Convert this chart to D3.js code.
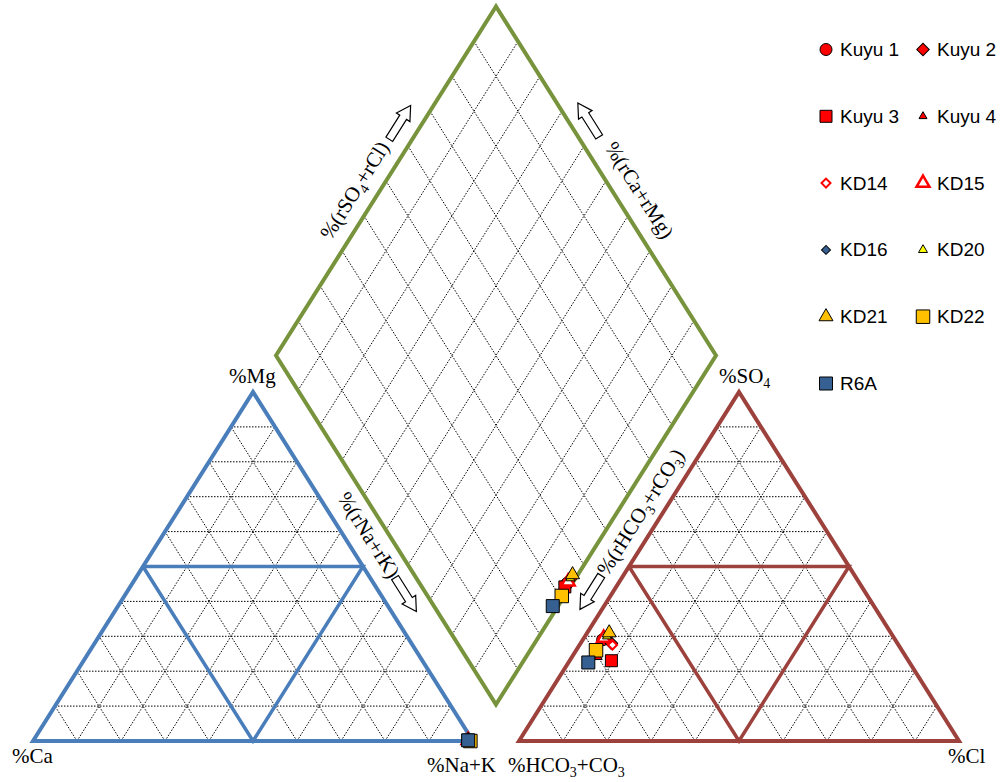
<!DOCTYPE html>
<html>
<head>
<meta charset="utf-8">
<script src="https://cdn.jsdelivr.net/npm/d3@7"></script>
<style>
  body { margin: 0; background: #fff; }
  svg { display: block; }
  .grid { stroke: #000; stroke-width: 1; stroke-dasharray: 1.5 1.5; fill: none; }
  .lbl { font-family: "Liberation Serif", "Times New Roman", serif; font-size: 21px; fill: #000; }
  .legend text { font-family: "Liberation Sans", Arial, sans-serif; font-size: 19px; fill: #000; }
</style>
</head>
<body>
<svg id="piper" width="1002" height="782"></svg>
<script>
// samples (legend order = draw order)
const samples = ["Kuyu 1", "Kuyu 2", "Kuyu 3", "Kuyu 4", "KD14", "KD15", "KD16", "KD20", "KD21", "KD22", "R6A"];
// cations, % of meq
const caPct  = [1.0, 0.8, 1.0, 0.9, 0.8, 1.0, 1.2, 1.0, 1.0, 0.6, 1.0];
const mgPct  = [0.2, 0.3, 0.2, 0.3, 0.2, 0.2, 0.3, 0.2, 0.2, 0.0, 0.2];
const naKPct = [98.8, 98.9, 98.8, 98.8, 99.0, 98.8, 98.5, 98.8, 98.8, 99.4, 98.8];
// anions, % of meq
const hco3Pct = [66.5, 65, 67.5, 70, 65, 66, 73, 65, 64, 69.5, 73];
const so4Pct  = [29, 28, 23, 24, 27.5, 29.5, 23, 30, 31, 26, 22.5];
const clPct   = [4.5, 7, 9.5, 6, 7.5, 4.5, 4, 5, 5, 4.5, 4.5];

const markerStyle = {
  "Kuyu 1": { shape: "circle", size: 12, fill: "#FF0000", stroke: "#000", sw: 1 },
  "Kuyu 2": { shape: "diamond", size: 12.5, fill: "#FF0000", stroke: "#000", sw: 1 },
  "Kuyu 3": { shape: "square", size: 12, fill: "#FF0000", stroke: "#000", sw: 1 },
  "Kuyu 4": { shape: "triangle", size: 8, fill: "#FF0000", stroke: "#000", sw: 1 },
  "KD14": { shape: "diamond", size: 9, fill: "#fff", stroke: "#FF0000", sw: 2 },
  "KD15": { shape: "triangle", size: 13, fill: "#fff", stroke: "#FF0000", sw: 2.5 },
  "KD16": { shape: "diamond", size: 9, fill: "#376092", stroke: "#000", sw: 1 },
  "KD20": { shape: "triangle", size: 9, fill: "#FFFF00", stroke: "#000", sw: 1 },
  "KD21": { shape: "triangle", size: 14, fill: "#FFC000", stroke: "#000", sw: 1 },
  "KD22": { shape: "square", size: 13.5, fill: "#FFC000", stroke: "#000", sw: 1 },
  "R6A": { shape: "square", size: 13, fill: "#376092", stroke: "#000", sw: 1 }
};

const h = Math.sqrt(3) / 2;
const gap = 46 / 440;
const x = d3.scaleLinear().domain([0, 2 + gap]).range([33, 33 + 440 * (2 + gap)]);
const y = d3.scaleLinear().domain([0, h]).range([741, 392]);
const line = d3.line().x(d => x(d[0])).y(d => y(d[1]));
const px = p => [x(p[0]), y(p[1])];

const svg = d3.select("#piper");

// ternary -> unit coords
const cationXY = (ca, mg, nak) => {
  const s = ca + mg + nak;
  return [nak / s + mg / s / 2, mg / s * h];
};
const anionXY = (hco3, so4, cl) => {
  const s = hco3 + so4 + cl;
  return [1 + gap + cl / s + so4 / s / 2, so4 / s * h];
};
const diamondXY = (c, a) => {
  const t = ((a[1] - c[1]) / h + 2 * (a[0] - c[0])) / 2;
  return [c[0] + t / 2, c[1] + t * h];
};

// diamond corners
const dB = diamondXY(cationXY(0, 0, 100), anionXY(100, 0, 0));
const dR = diamondXY(cationXY(0, 0, 100), anionXY(0, 0, 100));
const dT = diamondXY(cationXY(100, 0, 0), anionXY(0, 0, 100));
const dL = diamondXY(cationXY(100, 0, 0), anionXY(100, 0, 0));

const ticks = d3.range(1, 10).map(k => k / 10);
const gridG = svg.append("g");

function triangleGrid(ox) {
  ticks.forEach(f => {
    gridG.append("path").attr("class", "grid").attr("d", line([[ox + f / 2, f * h], [ox + 1 - f / 2, f * h]]));
    gridG.append("path").attr("class", "grid").attr("d", line([[ox + f, 0], [ox + f + (1 - f) / 2, (1 - f) * h]]));
    gridG.append("path").attr("class", "grid").attr("d", line([[ox + f, 0], [ox + f / 2, f * h]]));
  });
}
triangleGrid(0);
triangleGrid(1 + gap);

const lerp = (a, b, f) => [a[0] + (b[0] - a[0]) * f, a[1] + (b[1] - a[1]) * f];
ticks.forEach(f => {
  const p = lerp(dB, dL, f);
  gridG.append("path").attr("class", "grid")
    .attr("d", line([p, [p[0] + dR[0] - dB[0], p[1] + dR[1] - dB[1]]]));
  const q = lerp(dB, dR, f);
  gridG.append("path").attr("class", "grid")
    .attr("d", line([q, [q[0] + dL[0] - dB[0], q[1] + dL[1] - dB[1]]]));
});

// outlines
function triangle(ox, color) {
  const g = svg.append("g").attr("fill", "none").attr("stroke", color).attr("stroke-linejoin", "miter");
  g.append("path").attr("stroke-width", 3.5)
    .attr("d", line([[ox + 0.25, h / 2], [ox + 0.75, h / 2], [ox + 0.5, 0], [ox + 0.25, h / 2]]));
  g.append("path").attr("stroke-width", 4)
    .attr("d", line([[ox, 0], [ox + 0.5, h], [ox + 1, 0]]) + "Z");
}
triangle(0, "#4A7EBB");
triangle(1 + gap, "#9C413C");

svg.append("path")
  .attr("fill", "none").attr("stroke", "#77933C").attr("stroke-width", 4)
  .attr("d", line([dB, dR, dT, dL]) + "Z");

// labels
function label(segs, px0, py0, rot, anchor) {
  const t = svg.append("text").attr("class", "lbl")
    .attr("text-anchor", anchor || "start")
    .attr("transform", `translate(${px0},${py0}) rotate(${rot || 0})`);
  if (rot !== undefined) t.attr("dy", "0.35em");
  let sub = false;
  segs.forEach(s => {
    const isSub = Array.isArray(s);
    const ts = t.append("tspan").text(isSub ? s[0] : s);
    if (isSub) ts.attr("font-size", 14).attr("dy", sub ? 0 : 5);
    else if (sub) ts.attr("dy", -5);
    sub = isSub;
  });
  return t;
}
label(["%Ca"], 12, 763);
label(["%Na+K"], 427, 772);
label(["%Mg"], 229, 383);
label(["%SO", ["4"]], 719, 383);
label(["%HCO", ["3"], "+CO", ["3"]], 508, 772);
label(["%Cl"], 948, 763);

const ang = Math.atan2(y(0) - y(h), x(0.5) - x(0)) * 180 / Math.PI;

// point on an edge at fraction f, pushed sideways by offX pixels
function along(a, b, f, offX) {
  const A = px(a), B = px(b);
  return [A[0] + (B[0] - A[0]) * f + offX, A[1] + (B[1] - A[1]) * f];
}
function arrow(p, rot) {
  svg.append("path")
    .attr("d", "M-20,-4L6,-4L6,-8L20,0L6,8L6,4L-20,4Z")
    .attr("fill", "#fff").attr("stroke", "#000").attr("stroke-width", 1.2)
    .attr("transform", `translate(${p[0]},${p[1]}) rotate(${rot})`);
}

let p = along(dL, dT, 0.474, -26);
label(["%(rSO", ["4"], "+rCl)"], p[0], p[1], -ang, "middle");
arrow(along(dL, dT, 0.668, -23), -ang);

p = along(dR, dT, 0.474, 28);
label(["%(rCa+rMg)"], p[0], p[1], ang, "middle");
arrow(along(dR, dT, 0.675, 21), -180 + ang);

p = along(dB, dL, 0.486, -20);
label(["%(rNa+rK)"], p[0], p[1], ang, "middle");
arrow(along(dB, dL, 0.315, -21), ang);

p = along(dB, dR, 0.552, 22.7);
label(["%(rHCO", ["3"], "+rCO", ["3"], ")"], p[0], p[1], -ang, "middle");
arrow(along(dB, dR, 0.321, 24), 180 - ang);

// markers
function marker(sel, name) {
  const st = markerStyle[name];
  let path, rot = 0;
  const s = st.size;
  if (st.shape === "circle") path = d3.symbol(d3.symbolCircle, Math.PI * s * s / 4)();
  else if (st.shape === "square") path = d3.symbol(d3.symbolSquare, s * s)();
  else if (st.shape === "diamond") { path = d3.symbol(d3.symbolSquare, s * s / 2)(); rot = 45; }
  else path = d3.symbol(d3.symbolTriangle, Math.sqrt(3) / 4 * s * s)();
  sel.append("path").attr("d", path)
    .attr("fill", st.fill).attr("stroke", st.stroke).attr("stroke-width", st.sw)
    .attr("transform", function () { return d3.select(this.parentNode).attr("data-t") + ` rotate(${rot})`; });
}

const pts = samples.map((name, i) => {
  const c = cationXY(caPct[i], mgPct[i], naKPct[i]);
  const a = anionXY(hco3Pct[i], so4Pct[i], clPct[i]);
  return { name, c, a, d: diamondXY(c, a) };
});

const ptsG = svg.append("g");
pts.forEach(d => {
  [d.c, d.a, d.d].forEach(q => {
    const g = ptsG.append("g").attr("data-t", `translate(${x(q[0])},${y(q[1])})`);
    marker(g, d.name);
  });
});

// legend
const legend = svg.append("g").attr("class", "legend");
samples.forEach((name, i) => {
  const col = i % 2, row = Math.floor(i / 2);
  const lx = 826 + col * 97, ly = 49.5 + row * 66.8;
  const g = legend.append("g").attr("data-t", `translate(${lx},${ly})`);
  marker(g, name);
  g.append("text").attr("x", lx + 14).attr("y", ly + 6.5).text(name);
});
</script>
</body>
</html>
